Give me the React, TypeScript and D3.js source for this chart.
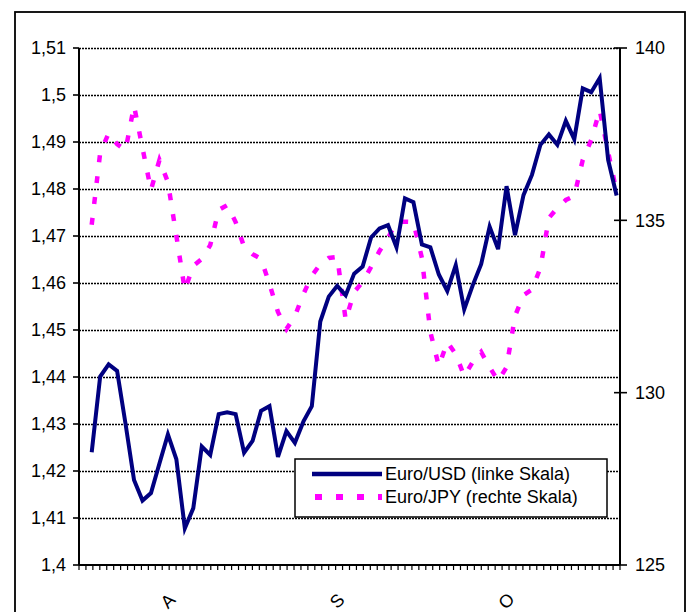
import React from "react";
import * as d3 from "d3";

// Euro/USD (left scale), daily values
const euroUsd: number[] = [
  1.424, 1.4401, 1.4427, 1.4413, 1.43, 1.4181, 1.4137, 1.4153, 1.4216, 1.4278,
  1.4225, 1.4078, 1.4121, 1.4252, 1.4234, 1.4321, 1.4325, 1.4321, 1.4239, 1.4264,
  1.4328, 1.4338, 1.423, 1.4285, 1.426, 1.4305, 1.4338, 1.4518, 1.4571, 1.4594,
  1.4574, 1.462, 1.4635, 1.4697, 1.4716, 1.4723, 1.4676, 1.478, 1.4772, 1.4682,
  1.4676, 1.4618, 1.4583, 1.4638, 1.4544, 1.4595, 1.464, 1.472, 1.4672, 1.4806,
  1.4702, 1.4787, 1.483, 1.4894, 1.4916, 1.4894, 1.4945, 1.4906, 1.5014, 1.5006,
  1.5036, 1.4862, 1.4786,
];

// Euro/JPY (right scale), daily values
const euroJpy: number[] = [
  134.87, 136.95, 137.53, 137.21, 137.04, 138.32, 137.1, 135.88, 136.75, 136.11,
  134.55, 132.98, 133.68, 133.88, 134.28, 135.3, 135.44, 134.95, 134.23, 134.02,
  133.88, 133.15, 132.34, 131.85, 132.22, 132.86, 133.39, 133.73, 133.91, 133.94,
  132.11, 132.92, 133.21, 133.65, 134.11, 134.49, 134.95, 134.96, 134.95, 133.91,
  131.76, 130.77, 131.47, 131.12, 130.48, 130.89, 131.18, 130.74, 130.34, 130.74,
  132.22, 132.83, 132.99, 133.62, 135.07, 135.36, 135.59, 135.71, 136.75, 137.33,
  138.2, 136.98, 135.82,
];

const leftTicks: number[] = [1.4, 1.41, 1.42, 1.43, 1.44, 1.45, 1.46, 1.47, 1.48, 1.49, 1.5, 1.51];
const rightTicks: number[] = [125, 130, 135, 140];
const monthLabels: string[] = ["A", "S", "O"];
const monthIndex: number[] = [9, 29, 49];
const dayTickCount = 78;

const seriesNames: string[] = ["Euro/USD (linke Skala)", "Euro/JPY (rechte Skala)"];

const W = 687;
const H = 612;
const L = 79;
const R = 620;
const T = 48;
const B = 565;
const FONT = "'Liberation Sans', Arial, sans-serif";

export default function App() {
  const x = d3.scaleLinear().domain([-1.5, euroUsd.length - 0.6]).range([L, R]);
  const yL = d3.scaleLinear().domain([1.4, 1.51]).range([B, T]);
  const yR = d3.scaleLinear().domain([125, 140]).range([B, T]);
  const tickX = d3.scaleLinear().domain([0, dayTickCount]).range([L, R]);

  const usdLine = d3
    .line<number>()
    .x((_, i) => x(i))
    .y((d) => yL(d))(euroUsd) as string;
  const jpyLine = d3
    .line<number>()
    .x((_, i) => x(i))
    .y((d) => yR(d))(euroJpy) as string;

  const fmt = (v: number) => String(+v.toFixed(2)).replace(".", ",");

  const legX = 295;
  const legY = 459;

  return (
    <svg
      width={W}
      height={H}
      style={{ position: "absolute", left: 0, top: 0, background: "#fff" }}
      fontFamily={FONT}
    >
      <rect x={0} y={0} width={W} height={H} fill="#fff" />
      {/* outer frame */}
      <rect x={15} y={12} width={670} height={640} fill="none" stroke="#000" strokeWidth={1.8} />

      {/* gridlines */}
      {leftTicks.slice(1).map((t) => (
        <line
          key={"g" + t}
          x1={L}
          x2={R}
          y1={Math.round(yL(t)) + 0.5}
          y2={Math.round(yL(t)) + 0.5}
          stroke="#000"
          strokeWidth={1.6}
          strokeDasharray="2 1"
        />
      ))}

      {/* left axis ticks and labels */}
      {leftTicks.map((t) => (
        <g key={"l" + t}>
          <line x1={L - 6} x2={L} y1={yL(t)} y2={yL(t)} stroke="#000" strokeWidth={1.6} />
          <text x={66} y={yL(t)} dy="0.35em" textAnchor="end" fontSize={18} fill="#000">
            {fmt(t)}
          </text>
        </g>
      ))}

      {/* right axis ticks and labels */}
      {rightTicks.map((t) => (
        <g key={"r" + t}>
          <line x1={R - 6} x2={R + 7} y1={yR(t)} y2={yR(t)} stroke="#000" strokeWidth={1.6} />
          <text x={635} y={yR(t)} dy="0.35em" textAnchor="start" fontSize={18} fill="#000">
            {t}
          </text>
        </g>
      ))}

      {/* bottom day ticks */}
      {d3.range(0, dayTickCount + 1).map((k) => (
        <line key={"d" + k} x1={tickX(k)} x2={tickX(k)} y1={B} y2={B + 5} stroke="#000" strokeWidth={1.2} />
      ))}

      {/* month labels */}
      {monthLabels.map((m, i) => (
        <text
          key={"m" + m}
          transform={`translate(${x(monthIndex[i])},601) rotate(-45)`}
          textAnchor="middle"
          dominantBaseline="central"
          fontSize={18}
          fill="#000"
        >
          {m}
        </text>
      ))}

      {/* axes lines */}
      <line x1={L} x2={L} y1={T} y2={B} stroke="#000" strokeWidth={2} />
      <line x1={R} x2={R} y1={T} y2={B} stroke="#000" strokeWidth={2} />
      <line x1={L} x2={R} y1={B} y2={B} stroke="#000" strokeWidth={2} />

      {/* series */}
      <path d={jpyLine} fill="none" stroke="#ff00ff" strokeWidth={4.5} strokeDasharray="7 14" />
      <path d={usdLine} fill="none" stroke="#000080" strokeWidth={4} strokeLinejoin="miter" />

      {/* legend */}
      <rect x={legX} y={legY} width={312} height={58} fill="#fff" stroke="#000" strokeWidth={1.5} />
      <line x1={312} x2={382} y1={474} y2={474} stroke="#000080" strokeWidth={4.5} />
      <line x1={315} x2={382} y1={497} y2={497} stroke="#ff00ff" strokeWidth={6} strokeDasharray="7 14" />
      <text x={385} y={474} dy="0.35em" fontSize={18} fill="#000">
        {seriesNames[0]}
      </text>
      <text x={385} y={497} dy="0.35em" fontSize={18} fill="#000">
        {seriesNames[1]}
      </text>
    </svg>
  );
}
